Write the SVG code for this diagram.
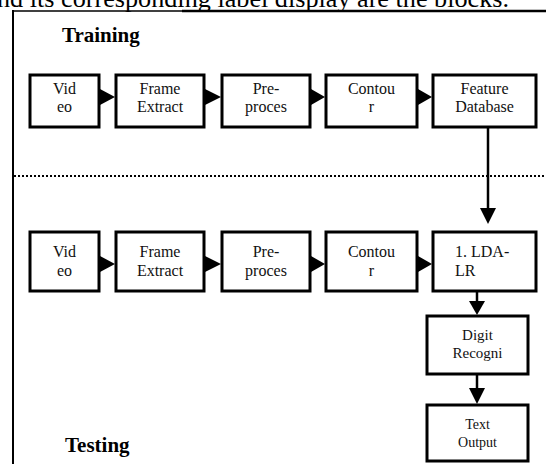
<svg xmlns="http://www.w3.org/2000/svg" width="546" height="464" viewBox="0 0 546 464">
<style>
.bg{fill:#ffffff}
.box{fill:#ffffff;stroke:#000;stroke-width:3}
.frame{fill:none;stroke:#000;stroke-width:2}
.t{font-family:"Liberation Serif","Times New Roman",serif;font-size:16px;fill:#111;text-anchor:middle}
.tl{text-anchor:start}
.sm{font-size:15px}
.xs{font-size:14px}
.h{font-family:"Liberation Serif","Times New Roman",serif;font-size:21px;font-weight:bold;fill:#000}
.cap{font-family:"Liberation Serif","Times New Roman",serif;font-size:26px;fill:#000}
.ln{stroke:#000;stroke-width:2.5;fill:none}
.dot{stroke:#000;stroke-width:2;stroke-dasharray:2 2;fill:none}
.ah{fill:#000}
</style>
<rect class="bg" x="0" y="0" width="546" height="464"/>
<text class="cap" x="-3" y="7" textLength="512" lengthAdjust="spacingAndGlyphs">nd its corresponding label display are the blocks.</text>
<line x1="12" y1="11" x2="182" y2="11" stroke="#000" stroke-width="1.3"/>
<line x1="182" y1="11" x2="546" y2="11" stroke="#000" stroke-width="2.5"/>
<line x1="13" y1="10" x2="13" y2="464" stroke="#000" stroke-width="2"/>
<text class="h" x="62" y="42">Training</text>
<text class="h" x="65" y="452">Testing</text>
<line class="dot" x1="14" y1="176" x2="546" y2="176"/>

<g id="train-video"><rect class="box" x="30" y="75" width="69" height="52"/><text class="t" x="64.5" y="94">Vid</text><text class="t" x="64.5" y="112">eo</text></g>
<g id="train-frame"><rect class="box" x="116" y="75" width="88" height="52"/><text class="t" x="160" y="94">Frame</text><text class="t" x="160" y="112">Extract</text></g>
<g id="train-pre"><rect class="box" x="222" y="75" width="88" height="52"/><text class="t" x="266" y="94">Pre-</text><text class="t" x="266" y="112">proces</text></g>
<g id="train-contour"><rect class="box" x="326" y="75" width="91" height="52"/><text class="t" x="371.5" y="94">Contou</text><text class="t" x="371.5" y="112">r</text></g>
<g id="train-db"><rect class="box" x="433" y="75" width="103" height="52"/><text class="t" x="484.5" y="94">Feature</text><text class="t" x="484.5" y="112">Database</text></g>

<g id="test-video"><rect class="box" x="30" y="232" width="69" height="59"/><text class="t" x="64.5" y="257">Vid</text><text class="t" x="64.5" y="276">eo</text></g>
<g id="test-frame"><rect class="box" x="116" y="232" width="88" height="59"/><text class="t" x="160" y="257">Frame</text><text class="t" x="160" y="276">Extract</text></g>
<g id="test-pre"><rect class="box" x="222" y="232" width="88" height="59"/><text class="t" x="266" y="257">Pre-</text><text class="t" x="266" y="276">proces</text></g>
<g id="test-contour"><rect class="box" x="326" y="232" width="91" height="59"/><text class="t" x="371.5" y="257">Contou</text><text class="t" x="371.5" y="276">r</text></g>
<g id="test-lda"><rect class="box" x="433" y="232" width="103" height="59"/><text class="t tl" x="455" y="257">1. LDA-</text><text class="t tl" x="455" y="276">LR</text></g>
<g id="test-digit"><rect class="box" x="427" y="316" width="101" height="58"/><text class="t sm" x="477.5" y="340">Digit</text><text class="t sm" x="477.5" y="358">Recogni</text></g>
<g id="test-output"><rect class="box" x="427" y="405" width="101" height="56"/><text class="t xs" x="477.5" y="429">Text</text><text class="t xs" x="477.5" y="447">Output</text></g>

<g id="connectors">
<polygon class="ah" points="100,89 115,97 100,105"/>
<polygon class="ah" points="205,89 221,97 205,105"/>
<polygon class="ah" points="311,89 325,97 311,105"/>
<polygon class="ah" points="418,89 432,97 418,105"/>
<polygon class="ah" points="100,256 115,264 100,272"/>
<polygon class="ah" points="205,256 221,264 205,272"/>
<polygon class="ah" points="311,256 325,264 311,272"/>
<polygon class="ah" points="418,256 432,264 418,272"/>
<line class="ln" x1="488" y1="128" x2="488" y2="210"/>
<polygon class="ah" points="480,208 496,208 488,224"/>
<line class="ln" x1="477" y1="292" x2="477" y2="303"/>
<polygon class="ah" points="469,301 485,301 477,315"/>
<line class="ln" x1="477" y1="375" x2="477" y2="390"/>
<polygon class="ah" points="469,388 485,388 477,404"/>
</g>
</svg>
